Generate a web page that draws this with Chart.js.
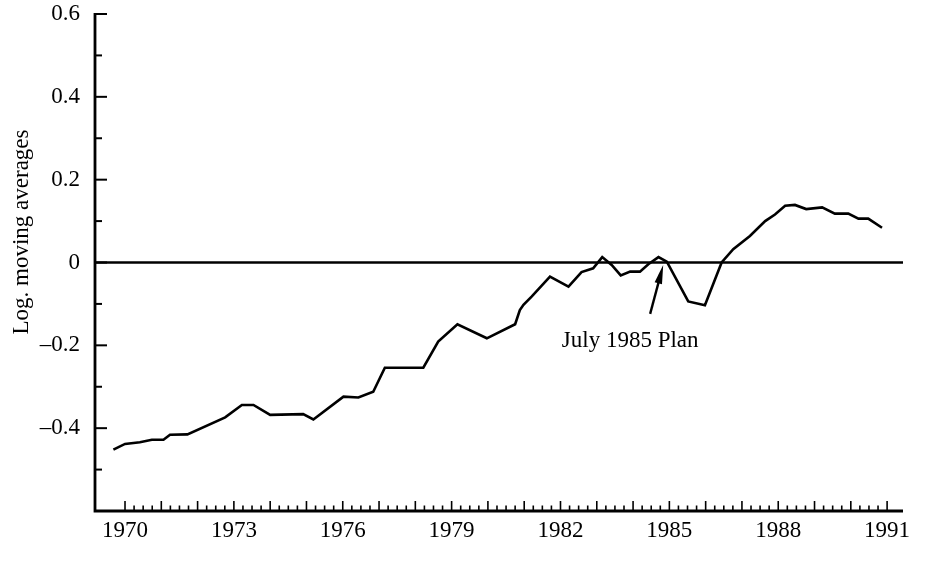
<!DOCTYPE html>
<html>
<head>
<meta charset="utf-8">
<script src="https://cdn.jsdelivr.net/npm/chart.js@4.4.1/dist/chart.umd.min.js"></script>
<style>
  html, body { margin: 0; padding: 0; background: #fff; }
</style>
</head>
<body>
<canvas id="chart" width="938" height="563"></canvas>
<script>
// values: decimal year -> log moving average
const years = [1969.68, 1970.00, 1970.41, 1970.74, 1971.06, 1971.24, 1971.72,
  1972.76, 1973.22, 1973.54, 1974.00, 1974.91, 1975.19,
  1976.02, 1976.43, 1976.84, 1977.16, 1978.22, 1978.63, 1979.16, 1979.97, 1980.75, 1980.88,
  1980.98, 1981.21, 1981.71, 1982.22, 1982.58, 1982.90, 1983.15, 1983.41, 1983.66, 1983.92,
  1984.19, 1984.42, 1984.70, 1984.93, 1985.52, 1985.98,
  1986.44, 1986.76, 1987.22, 1987.64, 1987.91, 1988.19, 1988.46, 1988.77, 1989.21, 1989.56,
  1989.93, 1990.21, 1990.48, 1990.86];
const values = [-0.452, -0.438, -0.434, -0.428, -0.428, -0.416, -0.415,
  -0.374, -0.344, -0.344, -0.368, -0.366, -0.379,
  -0.324, -0.326, -0.312, -0.254, -0.254, -0.191, -0.149, -0.183, -0.149, -0.115,
  -0.102, -0.082, -0.034, -0.058, -0.023, -0.014, 0.013, -0.006, -0.031, -0.022,
  -0.022, -0.004, 0.013, 0.002, -0.094, -0.103,
  0.000, 0.032, 0.064, 0.100, 0.116, 0.137, 0.139, 0.129, 0.133, 0.118,
  0.118, 0.106, 0.106, 0.084];

const xTickYears = [1970, 1973, 1976, 1979, 1982, 1985, 1988, 1991];
const yTickValues = [-0.6, -0.4, -0.2, 0, 0.2, 0.4, 0.6];
const yAxisTitle = 'Log. moving averages';

// annotation
const noteText = 'July 1985 Plan';
const noteTip = { x: 1984.83, y: -0.006 };
const noteTail = { x: 1984.47, y: -0.124 };
const noteLabel = { x: 1983.92, y: -0.189 };

const serif = '"Liberation Serif", "DejaVu Serif", serif';

// axis lines, inward ticks, zero line, arrow and labels
const decor = {
  id: 'decor',
  beforeDatasetsDraw(chart) {
    const { ctx, chartArea: a, scales: { y } } = chart;
    const y0 = y.getPixelForValue(0);
    ctx.save();
    ctx.strokeStyle = '#000';
    ctx.lineWidth = 2.6;
    ctx.beginPath();
    ctx.moveTo(a.left, y0);
    ctx.lineTo(a.right, y0);
    ctx.stroke();
    ctx.restore();
  },
  afterDraw(chart) {
    const { ctx, chartArea: a, scales: { x, y } } = chart;
    ctx.save();
    ctx.strokeStyle = '#000';
    ctx.fillStyle = '#000';

    // axes
    ctx.lineWidth = 2.8;
    ctx.beginPath();
    ctx.moveTo(a.left, a.top - 1);
    ctx.lineTo(a.left, a.bottom);
    ctx.lineTo(a.right, a.bottom);
    ctx.stroke();

    // y ticks, major every 0.2, minor between
    ctx.lineWidth = 2;
    for (let k = -5; k <= 6; k++) {
      const py = y.getPixelForValue(k / 10);
      const len = k % 2 === 0 ? 12 : 7;
      ctx.beginPath();
      ctx.moveTo(a.left, py);
      ctx.lineTo(a.left + len, py);
      ctx.stroke();
    }

    // x ticks, quarterly, taller at whole years
    ctx.lineWidth = 1.6;
    for (let q = 0; q <= 84; q++) {
      const px = x.getPixelForValue(1970 + q / 4);
      const len = q % 4 === 0 ? 10 : 5.5;
      ctx.beginPath();
      ctx.moveTo(px, a.bottom);
      ctx.lineTo(px, a.bottom - len);
      ctx.stroke();
    }

    // arrow
    const tx = x.getPixelForValue(noteTip.x), ty = y.getPixelForValue(noteTip.y);
    const sx = x.getPixelForValue(noteTail.x), sy = y.getPixelForValue(noteTail.y);
    const ang = Math.atan2(ty - sy, tx - sx);
    const c = Math.cos(ang), s = Math.sin(ang);
    ctx.lineWidth = 2.4;
    ctx.beginPath();
    ctx.moveTo(sx, sy);
    ctx.lineTo(tx - 12 * c, ty - 12 * s);
    ctx.stroke();
    ctx.beginPath();
    ctx.moveTo(tx, ty);
    ctx.lineTo(tx - 19 * c + 3.8 * s, ty - 19 * s - 3.8 * c);
    ctx.lineTo(tx - 19 * c - 3.8 * s, ty - 19 * s + 3.8 * c);
    ctx.closePath();
    ctx.fill();

    // annotation text
    ctx.font = '23px ' + serif;
    ctx.textAlign = 'center';
    ctx.textBaseline = 'middle';
    ctx.fillText(noteText, x.getPixelForValue(noteLabel.x), y.getPixelForValue(noteLabel.y));

    // y axis title
    ctx.translate(22, 232);
    ctx.rotate(-Math.PI / 2);
    ctx.fillText(yAxisTitle, 0, 0);
    ctx.restore();
  }
};

new Chart(document.getElementById('chart'), {
  type: 'line',
  data: {
    datasets: [{
      data: years.map((t, i) => ({ x: t, y: values[i] })),
      borderColor: '#000',
      borderWidth: 2.6,
      pointRadius: 0,
      tension: 0,
      fill: false
    }]
  },
  options: {
    responsive: false,
    animation: false,
    layout: { padding: { top: 14, right: 35, left: 0, bottom: 0 } },
    plugins: {
      legend: { display: false },
      tooltip: { enabled: false }
    },
    scales: {
      x: {
        type: 'linear',
        min: 1969.173,
        max: 1991.438,
        grid: { display: false, drawTicks: false },
        border: { display: false },
        afterBuildTicks: (scale) => { scale.ticks = xTickYears.map(v => ({ value: v })); },
        afterFit: (scale) => {
          scale.height = 52;
          scale.paddingLeft = 0;
          scale.paddingRight = 0;
        },
        ticks: {
          autoSkip: false,
          maxRotation: 0,
          padding: 6,
          color: '#000',
          font: { family: serif, size: 23 },
          callback: (v) => String(v)
        }
      },
      y: {
        min: -0.6,
        max: 0.6,
        grid: { display: false, drawTicks: false },
        border: { display: false },
        afterBuildTicks: (scale) => { scale.ticks = yTickValues.map(v => ({ value: v })); },
        afterFit: (scale) => {
          scale.width = 95;
          scale.paddingTop = 0;
          scale.paddingBottom = 0;
        },
        ticks: {
          padding: 15,
          color: '#000',
          font: { family: serif, size: 23 },
          callback: (v) => {
            if (Math.abs(v + 0.6) < 1e-9) return '';
            if (Math.abs(v) < 1e-9) return '0';
            const t = Math.abs(v).toFixed(1);
            return v < 0 ? '\u2013' + t : t;
          }
        }
      }
    }
  },
  plugins: [decor]
});
</script>
</body>
</html>
